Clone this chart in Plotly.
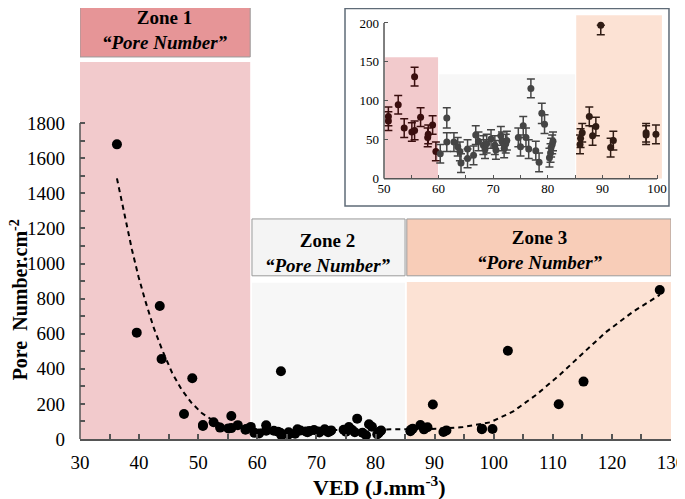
import plotly.graph_objs as go

# main chart points that are not in the inset (VED, pore number)
main_x = [36.25, 39.6, 43.5, 43.8, 47.6, 49.0, 64.0, 102.4, 111.0, 115.2, 128.1]
main_y = [1679, 606, 758, 456, 142, 346, 386, 503, 198, 327, 849]

# inset points, zone by zone (VED 50-100)
z1_x = [50.8, 50.8, 52.6, 53.7, 55.1, 55.6, 55.6, 56.7, 58.0, 58.1, 58.9, 59.5]
z1_y = [80, 74, 95, 65, 60, 62, 131, 79, 53, 57, 69, 35]
z1_err = [12, 12, 12, 12, 12, 12, 12, 12, 12, 12, 12, 12]

z2_x = [60.3, 61.5, 61.5, 62.8, 63.5, 63.9, 64.1, 65.3, 65.3, 66.4, 66.8, 67.3,
        68.2, 68.5, 68.8, 69.6, 70.3, 70.5, 71.4, 71.6, 72.0, 72.3, 72.5,
        74.6, 75.0, 75.5, 76.0, 76.5, 76.9, 77.8, 78.4, 78.9, 79.4,
        80.3, 80.5, 80.6, 80.8, 80.95]
z2_y = [32, 78, 47, 47, 41, 35, 20, 38, 26, 30, 56, 48,
        43, 38, 45, 51, 43, 37, 55, 48, 39, 45, 49,
        53, 41, 68, 53, 38, 116, 36, 21, 84, 70,
        27, 33, 40, 44, 48]
z2_err = [12, 13, 12, 12, 12, 12, 12, 12, 12, 12, 12, 12,
          12, 12, 12, 12, 12, 12, 12, 12, 12, 12, 12,
          12, 12, 12, 12, 12, 12, 12, 12, 13, 12,
          12, 12, 12, 12, 12]

z3_x = [85.9, 86.0, 86.3, 87.6, 88.2, 88.8, 89.7, 91.5, 92.0, 98.0, 98.0, 99.8]
z3_y = [44, 52, 59, 80, 55, 67, 197, 40, 49, 59, 56, 57]
z3_err_up = [12, 12, 12, 12, 12, 12, 0, 12, 12, 12, 12, 12]
z3_err_dn = [12, 12, 12, 12, 12, 12, 12, 12, 12, 12, 12, 12]

# dashed trend line
trend_x = [36.25, 37.1, 37.9, 38.8, 39.9, 41.0, 42.4, 43.9, 45.6, 47.2, 48.9, 50.6,
           52.3, 54.0, 56.0, 58.0, 62.0, 66.0, 70.0, 75.0, 80.0, 85.3, 90.3, 94.8,
           99.4, 103.3, 107.2, 111.2, 115.1, 119.1, 123.6, 128.1]
trend_y = [1485, 1343, 1210, 1077, 925, 793, 641, 508, 376, 281, 205, 148,
           110, 82, 66, 58, 52, 50, 50, 52, 56, 56, 58, 68,
           95, 157, 252, 366, 489, 612, 726, 821]

zone_names = ["Zone 1", "Zone 2", "Zone 3"]

serif = "Liberation Serif"
axis_grey = "#555555"
zone_bg = ["#f2cacc", "#f7f7f7", "#fce2d4"]
zone_head = ["#e69597", "#f4f4f4", "#f8cdb8"]

template = go.layout.Template()
template.layout.font = dict(family=serif, size=19, color="black")
template.layout.plot_bgcolor = "white"
template.layout.paper_bgcolor = "white"

all_x = main_x + z1_x + z2_x + z3_x
all_y = main_y + z1_y + z2_y + z3_y

fig = go.Figure(layout={"template": template})

# ---- zone shading, main chart
zx = [(30, 58.8), (59.1, 85.0), (85.3, 130)]
bg_top = [2148, 890, 895]
head = [(2177, 2500), (930, 1254), (930, 1254)]
for i in range(3):
    fig.add_shape(type="rect", xref="x", yref="y", x0=zx[i][0], x1=zx[i][1], y0=0, y1=bg_top[i],
                  fillcolor=zone_bg[i], line_width=0, layer="below")
    fig.add_shape(type="rect", xref="x", yref="y", x0=zx[i][0], x1=zx[i][1], y0=head[i][0], y1=head[i][1],
                  fillcolor=zone_head[i], line=dict(color="#9a9a9a", width=1), layer="below")
label_pos = [(44.4, 2331), (72.0, 1061), (107.8, 1078)]
for i in range(3):
    fig.add_annotation(x=label_pos[i][0], y=label_pos[i][1], xref="x", yref="y", showarrow=False,
                       text="<b>" + zone_names[i] + "</b><br><b><i>\u201cPore Number\u201d</i></b>",
                       font=dict(size=19, family=serif), align="center")

# y axis line only up to 1800
fig.add_shape(type="line", xref="paper", yref="y", x0=0, x1=0, y0=0, y1=1800,
              line=dict(color=axis_grey, width=1.5))

fig.add_trace(go.Scatter(x=trend_x, y=trend_y, mode="lines", showlegend=False,
                         line=dict(color="black", width=2, dash="5px,4px")))
fig.add_trace(go.Scatter(x=all_x, y=all_y, mode="markers", showlegend=False,
                         marker=dict(color="black", size=10)))

# ---- inset
fig.add_shape(type="rect", xref="paper", yref="paper", x0=0.4484, x1=0.9966, y0=0.5406, y1=0.9988,
              fillcolor="white", line=dict(color="#5f6b77", width=1.5), layer="below")
ix = [(50.2, 59.9), (60.1, 85.0), (85.2, 100.9)]
itop = [156, 134, 210]
for i in range(3):
    fig.add_shape(type="rect", xref="x2", yref="y2", x0=ix[i][0], x1=ix[i][1], y0=0, y1=itop[i],
                  fillcolor=zone_bg[i], line_width=0, layer="below")
fig.add_shape(type="line", xref="x2", yref="y2 domain", x0=50, x1=100, y0=0, y1=0,
              line=dict(color=axis_grey, width=1.5))
fig.add_shape(type="line", xref="x2 domain", yref="y2", x0=0, x1=0, y0=0, y1=200,
              line=dict(color=axis_grey, width=1.5))

inset_sets = [
    (z1_x, z1_y, z1_err, z1_err, "#3a0e0e"),
    (z2_x, z2_y, z2_err, z2_err, "#454545"),
    (z3_x, z3_y, z3_err_up, z3_err_dn, "#301c14"),
]
for xs, ys, up, dn, col in inset_sets:
    fig.add_trace(go.Scatter(x=xs, y=ys, mode="markers", xaxis="x2", yaxis="y2", showlegend=False,
                             marker=dict(color=col, size=7),
                             error_y=dict(type="data", array=up, arrayminus=dn, color=col,
                                          thickness=1.5, width=4)))

fig.add_annotation(x=80.6, y=-0.109, xref="x", yref="paper", showarrow=False, yanchor="middle",
                   text="<b>VED (J.mm<sup>-3</sup>)</b>", font=dict(size=22, family=serif))
fig.add_annotation(x=-0.1032, y=790, xref="paper", yref="y", showarrow=False, textangle=-90,
                   xanchor="center", yanchor="middle",
                   text="<b>Pore\u00a0 Number.cm<sup>-2</sup></b>", font=dict(size=20, family=serif))

# the page body adds 8px round the figure, so the figure is 8px smaller on each side
fig.layout.width, fig.layout.height = 677, 491
fig.layout.margin = dict(l=72, r=14, t=0, b=60)
fig.layout.xaxis = dict(range=[30, 130], tickmode="array", tickvals=list(range(30, 140, 10)),
                        showline=True, linecolor=axis_grey,
                        linewidth=1.5, ticks="inside", ticklen=5, tickwidth=1.5, tickcolor=axis_grey,
                        minor=dict(tickvals=list(range(35, 130, 10)), ticks="inside", ticklen=5,
                                   tickwidth=1.5, tickcolor=axis_grey),
                        showgrid=False, zeroline=False, tickprefix="<b>", ticksuffix="</b>",
                        ticklabelstandoff=5, ticklabeloverflow="allow", tickfont=dict(size=19))
fig.layout.yaxis = dict(range=[0, 2456], tickmode="array", tickvals=list(range(0, 2000, 200)),
                        showline=False, ticks="inside", ticklen=5, tickwidth=1.5, tickcolor=axis_grey,
                        minor=dict(tickvals=list(range(100, 1800, 200)), ticks="inside", ticklen=5,
                                   tickwidth=1.5, tickcolor=axis_grey),
                        showgrid=False, zeroline=False, tickprefix="<b>", ticksuffix="</b>",
                        ticklabelstandoff=14, tickfont=dict(size=19))
fig.layout.xaxis2 = dict(domain=[0.5144, 0.9902], anchor="y2", range=[50, 101.5], tickmode="array",
                         tickvals=list(range(50, 110, 10)), showline=False, ticks="inside", ticklen=4,
                         tickcolor=axis_grey,
                         minor=dict(tickvals=list(range(55, 100, 10)), ticks="inside", ticklen=4,
                                    tickcolor=axis_grey),
                         showgrid=False, zeroline=False, tickprefix="<b>", ticksuffix="</b>",
                         tickfont=dict(size=13))
fig.layout.yaxis2 = dict(domain=[0.604, 0.9923], anchor="x2", range=[0, 215], tickmode="array",
                         tickvals=list(range(0, 250, 50)), showline=False, ticks="inside", ticklen=4,
                         tickcolor=axis_grey, showgrid=False, zeroline=False,
                         tickprefix="<b>", ticksuffix="</b>", ticklabelstandoff=4,
                         tickfont=dict(size=13))

fig.write_html("out.html")
